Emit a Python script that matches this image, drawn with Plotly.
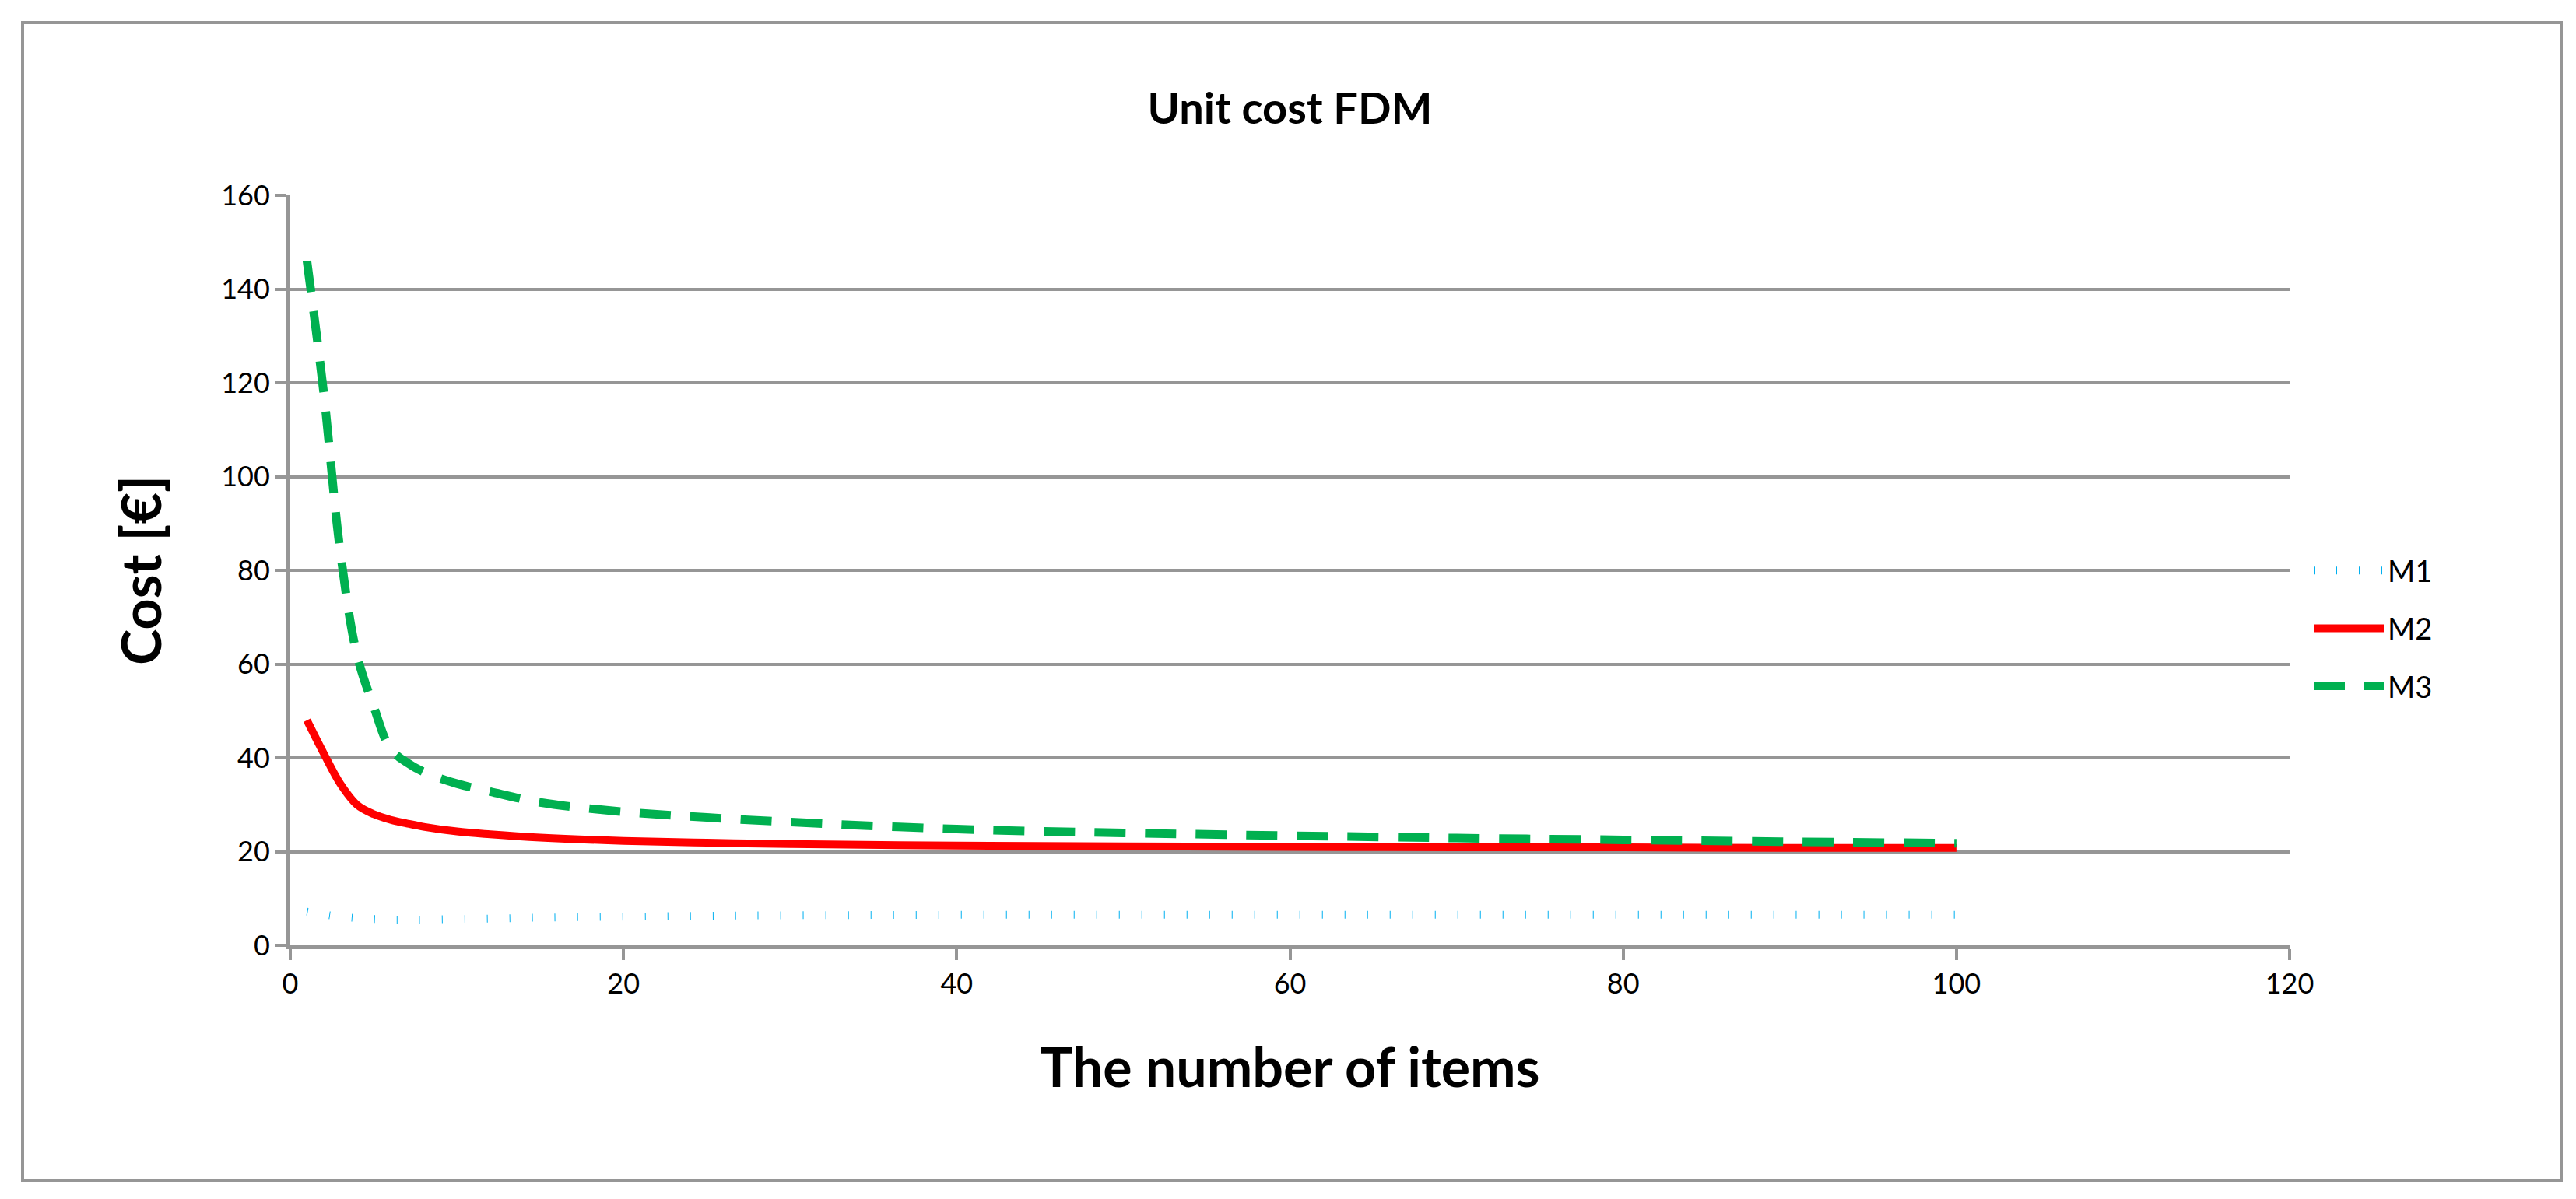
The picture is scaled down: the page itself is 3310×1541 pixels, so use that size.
import plotly.graph_objects as go

x = [1, 2, 3, 4, 5, 6, 7, 8, 10, 12, 15, 20, 25, 30, 40, 50, 60, 70, 80, 90, 100]
m1 = [7.2, 6.6, 6.1, 5.8, 5.6, 5.5, 5.5, 5.5, 5.6, 5.7, 5.9, 6.1, 6.3, 6.4, 6.5, 6.5, 6.5, 6.5, 6.5, 6.5, 6.5]
m2 = [48, 41, 34.5, 30, 28, 26.8, 26, 25.3, 24.3, 23.7, 23.0, 22.3, 21.9, 21.6, 21.3, 21.1, 21.0, 20.9, 20.9, 20.8, 20.8]
m3 = [146, 118, 84, 62, 51, 42, 39, 37, 34.5, 32.8, 30.5, 28.5, 27.3, 26.3, 24.8, 24, 23.4, 22.9, 22.5, 22.1, 21.8]

fig = go.Figure()
fig.add_trace(go.Scatter(x=x, y=m1, name="M1", legendgroup="a", mode="lines",
                         line=dict(color="#00B0F0", width=10, dash="1px,28px", shape="spline")))
fig.add_trace(go.Scatter(x=x, y=m2, name="M2", legendgroup="b", mode="lines",
                         line=dict(color="#FF0000", width=10, shape="spline")))
fig.add_trace(go.Scatter(x=x, y=m3, name="M3", legendgroup="c", mode="lines",
                         line=dict(color="#00B050", width=11, dash="40px,25px", shape="spline")))

W, H = 3310, 1541
L, R, T, B = 365, 376, 243, 334
pw, ph = W - L - R, H - T - B
def px(v): return (v - L) / pw
def py(v): return (H - B - v) / ph

fig.update_layout(
    width=W, height=H, paper_bgcolor="white", plot_bgcolor="white",
    margin=dict(l=L, r=R, t=T, b=B),
    font=dict(family="Lato, Open Sans, sans-serif", color="black", size=36),
    title=dict(text="<b>Unit cost FDM</b>", x=0.5, xref="paper", y=1 - 131 / H, yanchor="middle", font=dict(size=56)),
    showlegend=True,
    legend=dict(x=px(2960), y=py(800), yanchor="middle", xanchor="left", font=dict(size=38),
                tracegroupgap=22, itemwidth=90),
    xaxis=dict(range=[0, 120], dtick=20, showgrid=False, showline=True, linecolor="#969696", linewidth=5,
               ticks="outside", ticklen=14, tickwidth=4, tickcolor="#969696", zeroline=False,
               title=dict(text="<b>The number of items</b>", font=dict(size=70), standoff=65)),
    yaxis=dict(range=[0, 160], dtick=20, showgrid=True, gridcolor="#969696", gridwidth=4, showline=True,
               linecolor="#969696", linewidth=5, ticks="outside", ticklen=14, tickwidth=4, tickcolor="#969696",
               zeroline=False, title=dict(text="<b>Cost [€]</b>", font=dict(size=70), standoff=55)),
    shapes=[dict(type="rect", xref="paper", yref="paper", x0=px(21), x1=px(3283), y0=py(1509), y1=py(21),
                 line=dict(color="#969696", width=4), fillcolor="rgba(0,0,0,0)", layer="below")],
)
fig.write_html("out.html")
